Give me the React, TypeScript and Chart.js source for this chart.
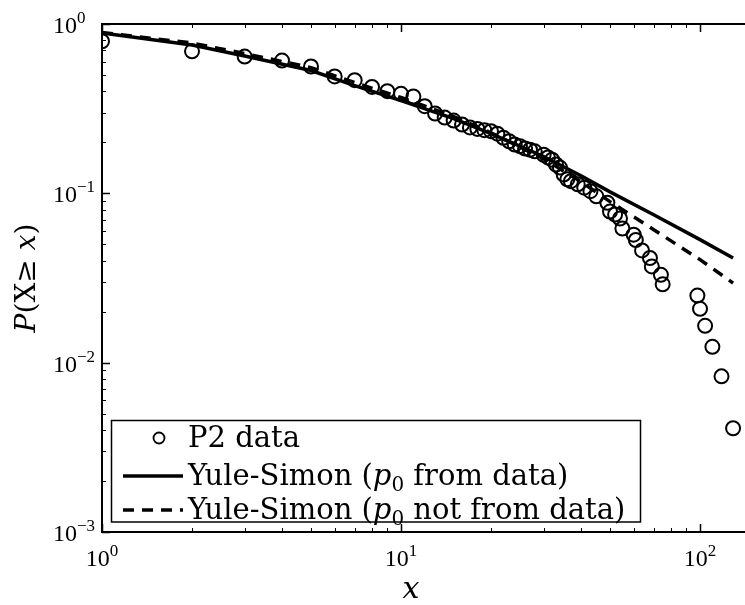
import React, { useEffect, useRef } from "react";
import { Chart, registerables } from "chart.js";

Chart.register(...registerables);

// P2 data: x values and complementary cumulative probabilities
const dataX = [1, 2, 3, 4, 5, 6, 7, 8, 9, 10, 11, 12, 13, 14, 15, 16, 17, 18, 19, 20, 21, 22, 23, 24, 25, 26, 27, 28, 30, 31, 32, 33, 34, 35, 36, 37, 39, 41, 43, 45, 49, 50, 52, 54, 55, 60, 61, 64, 68, 69, 74, 75, 98, 100, 104, 110, 118, 129];
const dataY = [0.791, 0.69, 0.642, 0.608, 0.561, 0.49, 0.466, 0.425, 0.401, 0.387, 0.373, 0.327, 0.296, 0.28, 0.269, 0.255, 0.245, 0.24, 0.236, 0.233, 0.225, 0.213, 0.203, 0.194, 0.19, 0.184, 0.181, 0.177, 0.169, 0.163, 0.158, 0.148, 0.142, 0.129, 0.121, 0.118, 0.113, 0.108, 0.103, 0.096, 0.088, 0.078, 0.075, 0.071, 0.062, 0.057, 0.053, 0.046, 0.0415, 0.037, 0.033, 0.029, 0.0249, 0.0208, 0.0165, 0.0124, 0.0083, 0.0041];

// Yule-Simon fits
const fitX = [1, 2, 3, 5, 7, 10, 15, 20, 30, 40, 50, 70, 100, 129];
const fitFromData = [0.885, 0.751, 0.647, 0.531, 0.433, 0.353, 0.276, 0.225, 0.165, 0.127, 0.102, 0.0748, 0.0533, 0.0415];
const fitNotFromData = [0.891, 0.772, 0.669, 0.553, 0.451, 0.368, 0.284, 0.228, 0.16, 0.117, 0.0893, 0.061, 0.0406, 0.0295];

const xTickExps = [0, 1, 2];
const yTickExps = [0, -1, -2, -3];
const xMin = 1;
const xMax = 141.4;
const yMin = 0.001;
const yMax = 1;

type Seg = { t: string; italic?: boolean; sub?: boolean; sup?: boolean };

const legendEntries: { kind: string; segs: Seg[] }[] = [
  { kind: "points", segs: [{ t: "P2 data" }] },
  { kind: "solid", segs: [{ t: "Yule-Simon (" }, { t: "p", italic: true }, { t: "0", sub: true }, { t: " from data)" }] },
  { kind: "dashed", segs: [{ t: "Yule-Simon (" }, { t: "p", italic: true }, { t: "0", sub: true }, { t: " not from data)" }] },
];
const yTitle: Seg[] = [{ t: "P", italic: true }, { t: "(X\u2265 " }, { t: "x", italic: true }, { t: ")" }];
const xTitle: Seg[] = [{ t: "x", italic: true }];

function fontFor(seg: Seg, size: number, family: string) {
  const s = seg.sub || seg.sup ? Math.round(size * 0.7) : size;
  return `${seg.italic ? "italic " : ""}${s}px ${family}`;
}

function measureSegs(ctx: CanvasRenderingContext2D, segs: Seg[], size: number, family: string) {
  let w = 0;
  for (const s of segs) {
    ctx.font = fontFor(s, size, family);
    w += ctx.measureText(s.t).width;
  }
  return w;
}

function drawSegs(ctx: CanvasRenderingContext2D, segs: Seg[], x: number, y: number, size: number, family: string) {
  let cx = x;
  ctx.textBaseline = "alphabetic";
  ctx.textAlign = "left";
  for (const s of segs) {
    ctx.font = fontFor(s, size, family);
    let dy = 0;
    if (s.sub) dy = size * 0.22;
    if (s.sup) dy = -size * 0.42;
    ctx.fillText(s.t, cx, y + dy);
    cx += ctx.measureText(s.t).width;
  }
}

function expLabel(e: number): Seg[] {
  return [{ t: "10" }, { t: e < 0 ? "\u2212" + Math.abs(e) : String(e), sup: true }];
}

const decorPlugin = {
  id: "decor",
  afterDraw(chart: any) {
    const ctx: CanvasRenderingContext2D = chart.ctx;
    const { left, right, top, bottom } = chart.chartArea;
    const xs = chart.scales.x;
    const ys = chart.scales.y;
    ctx.save();
    ctx.strokeStyle = "#000";
    ctx.fillStyle = "#000";
    // spines
    ctx.lineWidth = 2;
    ctx.beginPath();
    ctx.moveTo(right + 2, top);
    ctx.lineTo(left, top);
    ctx.lineTo(left, bottom);
    ctx.lineTo(right + 2, bottom);
    ctx.stroke();
    // x ticks
    for (let d = 0; d <= 2; d++) {
      for (let m = 1; m <= 9; m++) {
        const v = m * Math.pow(10, d);
        if (v < xMin || v > xMax) continue;
        const px = Math.round(xs.getPixelForValue(v)) + 0.5;
        const len = m === 1 ? 8 : 4;
        ctx.lineWidth = m === 1 ? 1.5 : 1;
        ctx.beginPath();
        ctx.moveTo(px, bottom);
        ctx.lineTo(px, bottom - len);
        ctx.moveTo(px, top);
        ctx.lineTo(px, top + len);
        ctx.stroke();
      }
    }
    // y ticks
    for (let d = -3; d <= 0; d++) {
      for (let m = 1; m <= 9; m++) {
        const v = m * Math.pow(10, d);
        if (v < yMin || v > yMax) continue;
        const py = Math.round(ys.getPixelForValue(v)) + 0.5;
        const len = m === 1 ? 8 : 4;
        ctx.lineWidth = m === 1 ? 1.5 : 1;
        ctx.beginPath();
        ctx.moveTo(left, py);
        ctx.lineTo(left + len, py);
        ctx.stroke();
      }
    }
    // tick labels
    const tickFam = "'Liberation Serif', serif";
    const tickSize = 24;
    for (const e of xTickExps) {
      const px = xs.getPixelForValue(Math.pow(10, e));
      const segs = expLabel(e);
      const w = measureSegs(ctx, segs, tickSize, tickFam);
      drawSegs(ctx, segs, px - w / 2, bottom + 34, tickSize, tickFam);
    }
    let maxW = 0;
    for (const e of yTickExps) maxW = Math.max(maxW, measureSegs(ctx, expLabel(e), tickSize, tickFam));
    for (const e of yTickExps) {
      const py = ys.getPixelForValue(Math.pow(10, e));
      const segs = expLabel(e);
      drawSegs(ctx, segs, left - 7 - maxW, py + 9, tickSize, tickFam);
    }
    // axis titles
    const titleFam = "'DejaVu Serif', serif";
    const xtw = measureSegs(ctx, xTitle, 30, titleFam);
    drawSegs(ctx, xTitle, 411 - xtw / 2, bottom + 66, 30, titleFam);
    ctx.save();
    ctx.translate(35, (top + bottom) / 2);
    ctx.rotate(-Math.PI / 2);
    const ytw = measureSegs(ctx, yTitle, 28, titleFam);
    drawSegs(ctx, yTitle, -ytw / 2, 0, 28, titleFam);
    ctx.restore();
    // legend
    const lx0 = 111.5, ly0 = 420.5, lx1 = 640.5, ly1 = 522;
    ctx.fillStyle = "#fff";
    ctx.fillRect(lx0, ly0, lx1 - lx0, ly1 - ly0);
    ctx.fillStyle = "#000";
    ctx.lineWidth = 1.5;
    ctx.strokeRect(lx0, ly0, lx1 - lx0, ly1 - ly0);
    const rowY = [438, 476, 510];
    const legFam = "'DejaVu Serif', serif";
    const legSize = 29;
    legendEntries.forEach((en, i) => {
      const cy = rowY[i];
      if (en.kind === "points") {
        ctx.lineWidth = 1.8;
        ctx.setLineDash([]);
        ctx.beginPath();
        ctx.arc(159, cy, 5.5, 0, Math.PI * 2);
        ctx.stroke();
      } else {
        ctx.lineWidth = 3.5;
        ctx.setLineDash(en.kind === "dashed" ? [11, 8] : []);
        ctx.beginPath();
        ctx.moveTo(123, cy);
        ctx.lineTo(183, cy);
        ctx.stroke();
        ctx.setLineDash([]);
      }
      drawSegs(ctx, en.segs, 188, cy + 9, legSize, legFam);
    });
    ctx.restore();
  },
};

export default function App() {
  const ref = useRef<HTMLCanvasElement | null>(null);
  useEffect(() => {
    if (!ref.current) return;
    const pts = dataX.map((x, i) => ({ x, y: dataY[i] }));
    const solid = fitX.map((x, i) => ({ x, y: fitFromData[i] }));
    const dashed = fitX.map((x, i) => ({ x, y: fitNotFromData[i] }));
    const chart = new Chart(ref.current, {
      type: "line",
      data: {
        datasets: [
          {
            label: "Yule-Simon (p0 from data)",
            data: solid,
            borderColor: "#000",
            borderWidth: 3.5,
            pointRadius: 0,
            tension: 0,
            fill: false,
          },
          {
            label: "Yule-Simon (p0 not from data)",
            data: dashed,
            borderColor: "#000",
            borderWidth: 3.5,
            borderDash: [11, 8],
            pointRadius: 0,
            tension: 0,
            fill: false,
          },
          {
            label: "P2 data",
            data: pts,
            showLine: false,
            borderColor: "#000",
            backgroundColor: "rgba(0,0,0,0)",
            pointBackgroundColor: "rgba(0,0,0,0)",
            pointBorderColor: "#000",
            pointBorderWidth: 2,
            pointRadius: 7,
            pointStyle: "circle",
          },
        ],
      },
      options: {
        animation: false,
        responsive: false,
        devicePixelRatio: 1,
        layout: { autoPadding: false, padding: { left: 102, top: 24, right: 0, bottom: 73 } },
        scales: {
          x: { type: "logarithmic", min: xMin, max: xMax, display: false },
          y: { type: "logarithmic", min: yMin, max: yMax, display: false },
        },
        plugins: { legend: { display: false }, tooltip: { enabled: false } },
      },
      plugins: [decorPlugin],
    });
    return () => chart.destroy();
  }, []);
  return (
    <div style={{ position: "fixed", left: 0, top: 0, width: 745, height: 605, background: "#fff" }}>
      <canvas ref={ref} width={745} height={605} />
    </div>
  );
}
